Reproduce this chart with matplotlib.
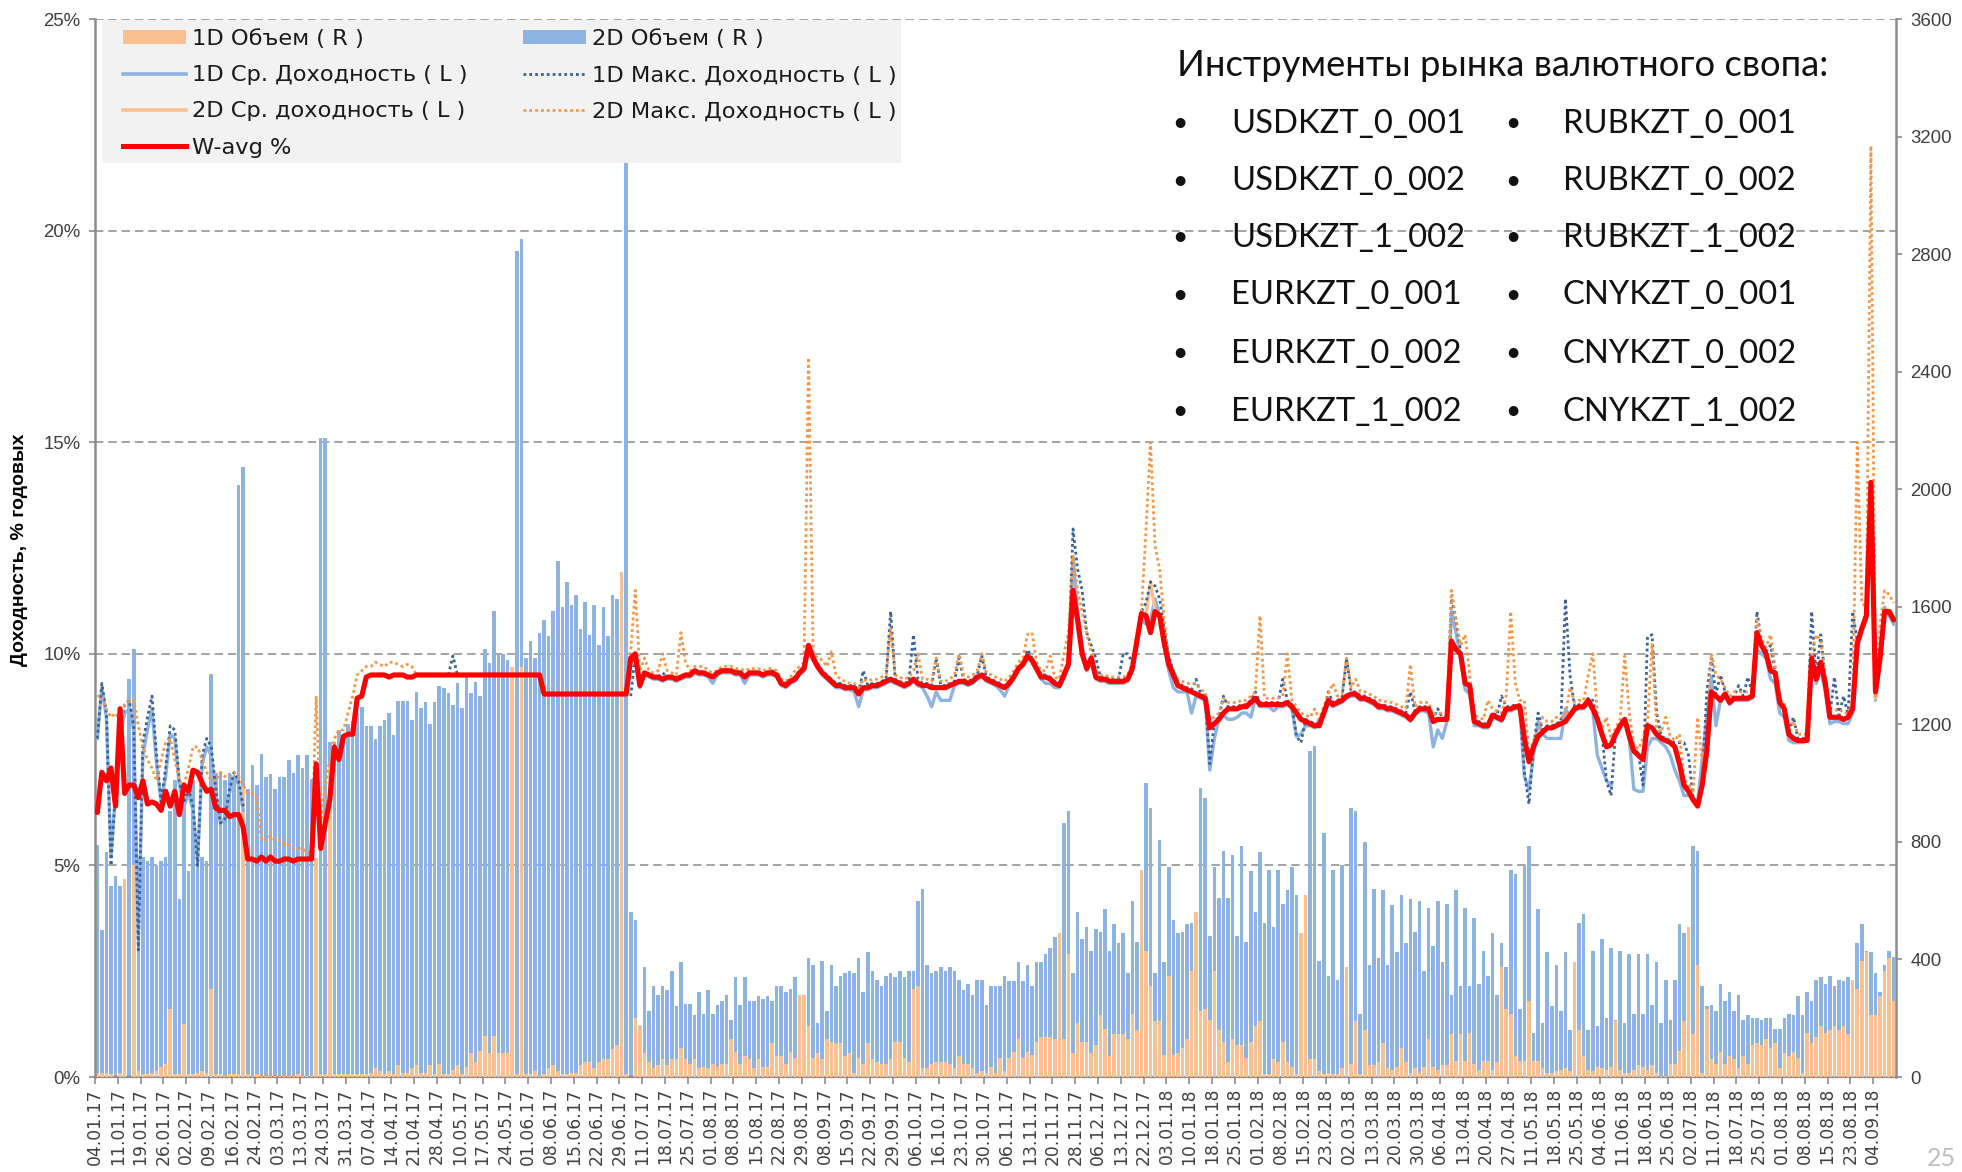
import numpy as np
import matplotlib
matplotlib.use("Agg")
import matplotlib.pyplot as plt
from matplotlib.lines import Line2D
from matplotlib.patches import Patch, Rectangle
from matplotlib.ticker import FixedLocator, FuncFormatter

plt.rcParams['font.family'] = ['Liberation Sans', 'DejaVu Sans']

# ---------------- data ----------------
tick_labels = [
    "04.01.17", "11.01.17", "19.01.17", "26.01.17", "02.02.17", "09.02.17", "16.02.17", "24.02.17",
    "03.03.17", "13.03.17", "24.03.17", "31.03.17", "07.04.17", "14.04.17", "21.04.17", "28.04.17",
    "10.05.17", "17.05.17", "24.05.17", "01.06.17", "08.06.17", "15.06.17", "22.06.17", "29.06.17",
    "11.07.17", "18.07.17", "25.07.17", "01.08.17", "08.08.17", "15.08.17", "22.08.17", "29.08.17",
    "08.09.17", "15.09.17", "22.09.17", "29.09.17", "06.10.17", "16.10.17", "23.10.17", "30.10.17",
    "06.11.17", "13.11.17", "20.11.17", "28.11.17", "06.12.17", "13.12.17", "22.12.17", "03.01.18",
    "10.01.18", "18.01.18", "25.01.18", "01.02.18", "08.02.18", "15.02.18", "23.02.18", "02.03.18",
    "13.03.18", "20.03.18", "30.03.18", "06.04.18", "13.04.18", "20.04.18", "27.04.18", "11.05.18",
    "18.05.18", "25.05.18", "04.06.18", "11.06.18", "18.06.18", "25.06.18", "02.07.18", "11.07.18",
    "18.07.18", "25.07.18", "01.08.18", "08.08.18", "15.08.18", "23.08.18", "04.09.18",
]

# 2D volume (right axis)
vol_2d = [
    790, 500, 765, 650, 685, 650, 0, 1355, 1455, 750,
    750, 735, 750, 720, 735, 750, 905, 1010, 605, 935,
    700, 1010, 735, 750, 735, 1370, 1035, 1035, 1010, 1035,
    1010, 2015, 2075, 980, 1060, 995, 1100, 1020, 1030, 980,
    1020, 1020, 1080, 1035, 1095, 1050, 1095, 1015, 0, 2175,
    2175, 1140, 1140, 1180, 1160, 1200, 1210, 1240, 1260, 1195,
    1195, 1150, 1195, 1215, 1240, 1165, 1280, 1280, 1280, 1215,
    1310, 1255, 1275, 1200, 1275, 1330, 1325, 1305, 1265, 1340,
    1255, 1360, 1305, 1345, 1295, 1455, 1410, 1585, 1440, 1440,
    1420, 0, 2810, 2850, 1425, 1485, 1425, 1510, 1555, 1500,
    1585, 1755, 1600, 1685, 1605, 1640, 1525, 1615, 1505, 1605,
    1470, 1600, 1500, 1640, 1625, 0, 3150, 560, 535, 175,
    375, 225, 310, 280, 310, 295, 360, 240, 390, 250,
    250, 210, 290, 215, 295, 215, 245, 260, 280, 195,
    340, 245, 340, 260, 260, 275, 265, 275, 260, 310,
    310, 290, 300, 340, 275, 280, 405, 380, 185, 395,
    225, 380, 310, 345, 355, 360, 355, 405, 290, 425,
    360, 330, 310, 345, 355, 340, 360, 340, 360, 360,
    600, 640, 380, 355, 360, 375, 360, 375, 360, 330,
    295, 315, 280, 330, 330, 245, 310, 310, 310, 345,
    325, 325, 390, 325, 380, 310, 390, 390, 420, 440,
    475, 480, 865, 905, 355, 560, 470, 510, 430, 505,
    495, 570, 430, 520, 455, 490, 355, 600, 460, 705,
    1000, 915, 355, 805, 390, 715, 535, 490, 495, 520,
    525, 560, 985, 950, 480, 715, 610, 770, 610, 755,
    480, 785, 460, 700, 560, 765, 525, 705, 510, 705,
    590, 635, 715, 620, 490, 620, 1110, 1125, 395, 830,
    345, 705, 330, 720, 375, 915, 905, 215, 800, 380,
    640, 405, 635, 380, 585, 425, 620, 455, 605, 495,
    600, 360, 575, 445, 600, 390, 590, 280, 635, 310,
    575, 310, 540, 315, 430, 345, 490, 280, 455, 375,
    705, 690, 230, 720, 785, 150, 570, 185, 425, 240,
    380, 225, 425, 160, 390, 525, 555, 160, 430, 175,
    470, 200, 440, 195, 430, 185, 420, 215, 420, 215,
    420, 245, 390, 185, 330, 195, 330, 520, 490, 510,
    785, 770, 310, 240, 245, 225, 315, 260, 290, 225,
    280, 195, 210, 200, 200, 195, 200, 200, 165, 165,
    200, 215, 210, 275, 210, 290, 260, 330, 340, 315,
    345, 310, 330, 325, 340, 330, 455, 520, 430, 425,
    355, 290, 380, 430, 410,
]

# 1D volume (right axis)
vol_1d = [
    15, 15, 15, 10, 0, 15, 675, 0, 720, 20,
    10, 10, 15, 20, 35, 45, 230, 10, 10, 180,
    10, 10, 15, 20, 15, 300, 10, 10, 5, 10,
    10, 10, 990, 10, 5, 10, 5, 5, 5, 5,
    5, 5, 5, 5, 10, 5, 5, 5, 745, 10,
    10, 1060, 10, 10, 10, 10, 10, 10, 10, 10,
    15, 30, 20, 10, 20, 10, 40, 15, 15, 30,
    40, 15, 15, 40, 10, 45, 10, 10, 25, 40,
    10, 35, 80, 50, 90, 140, 80, 140, 80, 80,
    80, 1395, 10, 1395, 10, 10, 20, 5, 10, 30,
    40, 20, 10, 10, 15, 15, 40, 50, 50, 30,
    50, 60, 60, 95, 110, 1720, 10, 0, 200, 170,
    80, 50, 30, 40, 60, 40, 60, 60, 100, 60,
    45, 60, 30, 35, 30, 45, 35, 45, 45, 130,
    85, 45, 70, 60, 30, 60, 35, 35, 115, 70,
    70, 45, 85, 65, 280, 280, 175, 65, 80, 60,
    130, 120, 115, 115, 70, 80, 15, 65, 45, 115,
    60, 50, 45, 45, 60, 120, 120, 65, 50, 300,
    310, 30, 30, 45, 50, 50, 50, 45, 30, 70,
    45, 45, 30, 15, 20, 15, 35, 15, 65, 20,
    65, 85, 130, 65, 85, 75, 120, 135, 135, 135,
    130, 490, 130, 420, 80, 185, 120, 120, 80, 110,
    210, 165, 70, 145, 145, 145, 130, 215, 160, 705,
    430, 310, 190, 190, 75, 345, 75, 80, 100, 130,
    360, 560, 225, 230, 195, 360, 160, 120, 50, 130,
    110, 110, 65, 120, 175, 190, 10, 10, 60, 50,
    120, 50, 35, 10, 490, 620, 60, 60, 20, 10,
    15, 10, 10, 30, 375, 45, 190, 10, 160, 40,
    40, 50, 115, 30, 25, 35, 100, 50, 15, 30,
    15, 35, 130, 35, 25, 40, 40, 145, 55, 145,
    55, 150, 45, 25, 55, 55, 25, 50, 375, 230,
    215, 70, 55, 55, 260, 55, 55, 30, 15, 15,
    20, 25, 30, 20, 390, 160, 70, 25, 20, 35,
    30, 25, 35, 190, 25, 15, 15, 25, 40, 35,
    25, 40, 15, 5, 5, 45, 45, 90, 190, 510,
    145, 380, 15, 230, 60, 45, 85, 45, 70, 60,
    30, 70, 45, 110, 115, 110, 130, 100, 115, 30,
    80, 70, 85, 65, 15, 150, 115, 135, 175, 150,
    160, 175, 160, 175, 145, 330, 300, 395, 425, 210,
    210, 275, 360, 405, 260,
]

# 1D average yield, % (left axis)
avg_1d = [
    8.0, 9.2, 8.5, 5.2, 6.7, 8.0, 8.6, 8.7, 8.2, 3.2,
    7.6, 8.2, 8.7, 7.4, 6.5, 7.1, 8.1, 8.0, 6.9, 6.4,
    6.7, 6.3, 5.1, 7.4, 7.8, 7.6, 6.7, 6.0, 6.1, 6.7,
    7.1, 6.9, 6.3, None, None, None, None, None, None, None,
    None, None, None, None, None, None, None, None, None, None,
    None, None, None, None, None, None, None, None, None, None,
    None, None, None, None, None, None, None, None, None, None,
    None, None, None, None, None, None, None, None, None, None,
    None, None, None, None, None, None, None, None, None, None,
    None, None, None, None, None, None, None, None, None, None,
    None, None, None, None, None, None, None, None, None, None,
    None, None, None, None, None, None, None, 9.8, 9.9, 9.2,
    9.5, 9.45, 9.4, 9.4, 9.35, 9.4, 9.4, 9.35, 9.4, 9.45,
    9.45, 9.55, 9.5, 9.5, 9.45, 9.3, 9.5, 9.55, 9.55, 9.55,
    9.5, 9.5, 9.3, 9.5, 9.5, 9.5, 9.45, 9.5, 9.5, 9.45,
    9.25, 9.2, 9.3, 9.35, 9.5, 9.6, 10.1, 9.85, 9.65, 9.5,
    9.4, 9.3, 9.2, 9.2, 9.15, 9.15, 9.1, 8.75, 9.15, 9.15,
    9.2, 9.2, 9.25, 9.3, 9.35, 9.3, 9.25, 9.2, 9.25, 9.35,
    9.25, 9.2, 9.0, 8.75, 9.1, 8.9, 8.9, 8.9, 9.25, 9.3,
    9.3, 9.25, 9.3, 9.4, 9.45, 9.35, 9.3, 9.25, 9.15, 9.0,
    9.25, 9.4, 9.6, 9.7, 9.9, 9.8, 9.6, 9.4, 9.3, 9.3,
    9.2, 9.2, 9.4, 9.7, 12.3, 11.0, 10.2, 9.6, 9.8, 9.4,
    9.35, 9.35, 9.3, 9.3, 9.3, 9.3, 9.35, 9.6, 10.2, 10.8,
    10.7, 10.8, 11.3, 10.9, 10.2, 9.6, 9.2, 9.1, 9.1, 9.1,
    8.6, 9.0, 8.95, 8.9, 7.25, 8.0, 8.45, 8.55, 8.45, 8.45,
    8.5, 8.6, 8.6, 8.5, 8.95, 8.75, 8.75, 8.75, 8.65, 8.75,
    8.75, 8.8, 8.7, 8.05, 8.1, 8.3, 8.3, 8.25, 8.45, 8.55,
    8.85, 8.75, 8.8, 8.85, 8.95, 9.0, 9.0, 8.9, 8.9, 8.85,
    8.8, 8.7, 8.7, 8.65, 8.65, 8.6, 8.55, 8.5, 8.4, 8.55,
    8.65, 8.65, 8.6, 7.8, 8.2, 8.0, 8.4, 11.0, 10.5, 9.9,
    9.15, 9.05, 8.3, 8.3, 8.25, 8.25, 8.5, 8.45, 8.4, 8.65,
    8.65, 8.7, 8.7, 7.1, 6.8, 7.6, 8.4, 8.1, 8.0, 8.0,
    8.0, 8.0, 8.7, 8.5, 8.65, 8.7, 8.7, 8.85, 8.65, 7.6,
    7.3, 7.0, 6.9, None, None, None, 8.0, 6.8, 6.75, 6.75,
    7.8, 8.0, 8.0, 7.9, 7.8, 7.6, 7.25, 7.0, 6.65, 6.65,
    6.6, 6.5, 7.5, 8.5, 9.45, 8.3, 8.9, 9.0, 8.8, 8.9,
    8.9, 8.9, 8.9, 8.95, 10.1, 10.0, 9.9, 9.4, 9.3, 8.6,
    8.5, 7.95, 7.9, 7.9, 7.9, 7.95, 9.9, 9.3, 9.6, 9.1,
    8.35, 8.4, 8.4, 8.35, 8.35, 8.6, 10.1, 10.5, 10.8, 13.9,
    8.9, 9.8, 11.1, 10.9, 10.7,
]

# 1D max yield, % (left axis)
max_1d = [
    8.0, 9.3, 8.6, 5.0, 6.8, 8.3, 8.8, 8.9, 8.3, 3.0,
    7.9, 8.5, 9.0, 7.6, 6.5, 7.3, 8.3, 8.2, 7.0, 6.5,
    6.8, 6.4, 5.0, 7.6, 8.0, 7.8, 6.8, 6.0, 6.1, 6.8,
    7.2, 7.0, 6.4, None, None, None, None, None, None, None,
    None, None, None, None, None, None, None, None, None, None,
    None, None, None, None, None, None, None, None, None, None,
    None, None, None, None, None, None, None, None, None, None,
    None, None, None, None, None, None, None, 9.5, 9.95, 9.5,
    None, None, None, None, None, None, None, None, None, None,
    None, None, None, None, None, None, None, None, None, None,
    None, None, None, None, None, None, None, None, None, None,
    None, None, None, None, None, None, None, 9.0, 10.0, 9.3,
    9.55, 9.5, 9.45, 9.45, 9.55, 9.45, 9.45, 9.4, 9.45, 9.5,
    9.5, 9.6, 9.55, 9.55, 9.5, 9.45, 9.55, 9.6, 9.6, 9.6,
    9.55, 9.55, 9.45, 9.55, 9.55, 9.55, 9.5, 9.55, 9.6, 9.55,
    9.35, 9.3, 9.4, 9.45, 9.6, 9.7, 10.2, 9.95, 9.75, 9.6,
    9.5, 9.4, 9.3, 9.3, 9.25, 9.25, 9.25, 9.1, 9.6, 9.25,
    9.3, 9.3, 9.35, 9.4, 11.0, 9.4, 9.35, 9.3, 9.35, 10.45,
    9.4, 9.3, 9.3, 9.25, 9.9, 9.25, 9.25, 9.3, 9.35, 9.9,
    9.4, 9.35, 9.4, 9.5, 9.95, 9.45, 9.4, 9.35, 9.3, 9.25,
    9.35, 9.5, 9.7, 9.8, 10.1, 9.9, 9.7, 9.5, 9.5, 9.45,
    9.35, 9.3, 9.55, 9.8, 12.95, 12.0, 11.5, 10.5, 10.2, 9.9,
    9.45, 9.45, 9.4, 9.4, 9.4, 10.0, 10.0, 9.8, 10.4, 11.0,
    11.2, 11.7, 11.6, 11.3, 10.6, 9.95, 9.6, 9.3, 9.25, 9.2,
    9.15, 9.4, 9.05, 9.0, 7.4, 8.4, 8.5, 9.0, 8.75, 8.75,
    8.75, 8.8, 8.8, 8.9, 9.1, 8.85, 8.85, 8.85, 8.85, 8.85,
    9.4, 8.9, 8.8, 8.05, 7.9, 8.45, 8.4, 8.35, 8.35, 8.65,
    9.1, 8.85, 8.9, 8.95, 9.9, 9.1, 9.1, 9.0, 9.0, 8.95,
    8.9, 8.8, 8.8, 8.75, 8.75, 8.7, 8.65, 8.6, 9.1, 8.65,
    8.75, 8.75, 8.75, 8.45, 8.7, 8.5, 8.5, 11.3, 10.8, 10.05,
    9.35, 9.3, 8.45, 8.4, 8.35, 8.35, 8.6, 8.55, 9.0, 8.75,
    8.75, 8.8, 8.8, 7.2, 6.45, 7.8, 8.6, 8.2, 8.3, 8.3,
    8.35, 8.4, 11.3, 9.5, 8.75, 8.8, 8.8, 8.95, 8.9, 8.5,
    8.15, 7.0, 6.65, 8.15, 8.35, 8.5, 8.1, 7.75, 7.65, 6.9,
    10.4, 10.45, 8.6, 8.05, 8.0, 7.95, 7.9, 7.9, 7.9, 7.6,
    6.6, 6.45, 7.0, 9.1, 9.9, 9.05, 9.5, 9.1, 8.9, 9.0,
    9.25, 9.0, 9.45, 9.05, 11.0, 10.3, 10.05, 10.2, 9.6, 8.8,
    8.75, 8.15, 8.5, 8.0, 8.0, 8.0, 11.0, 9.45, 10.45, 9.35,
    8.55, 9.45, 8.55, 9.0, 8.55, 11.0, 10.3, 10.65, 10.95, 14.1,
    9.15, 9.9, 11.05, 11.0, 10.85,
]

# 2D average yield, % (left axis)
avg_2d = [
    6.25, 7.2, 7.0, 7.3, 6.4, 8.7, 6.7, 6.9, 6.9, 6.6,
    7.0, 6.45, 6.5, 6.45, 6.3, 6.75, 6.4, 6.75, 6.2, 6.9,
    6.75, 7.25, 7.2, 6.95, 6.75, 6.8, 6.35, 6.3, 6.3, 6.15,
    6.2, 6.2, 5.9, 5.15, 5.15, 5.1, 5.2, 5.1, 5.2, 5.1,
    5.1, 5.15, 5.15, 5.1, 5.15, 5.15, 5.15, 5.15, 7.4, 5.4,
    6.0, 6.55, 7.8, 7.5, 8.05, 8.1, 8.1, 8.95, 9.0, 9.45,
    9.5, 9.5, 9.5, 9.5, 9.45, 9.5, 9.5, 9.5, 9.45, 9.45,
    9.5, 9.5, 9.5, 9.5, 9.5, 9.5, 9.5, 9.5, 9.5, 9.5,
    9.5, 9.5, 9.5, 9.5, 9.5, 9.5, 9.5, 9.5, 9.5, 9.5,
    9.5, 9.5, 9.5, 9.5, 9.5, 9.5, 9.5, 9.5, 9.05, 9.05,
    9.05, 9.05, 9.05, 9.05, 9.05, 9.05, 9.05, 9.05, 9.05, 9.05,
    9.05, 9.05, 9.05, 9.05, 9.05, 9.05, 9.05, 9.9, 10.0, 9.25,
    9.55, 9.5, 9.45, 9.45, 9.4, 9.45, 9.45, 9.4, 9.45, 9.5,
    9.5, 9.6, 9.55, 9.55, 9.5, 9.45, 9.55, 9.6, 9.6, 9.6,
    9.55, 9.55, 9.45, 9.55, 9.55, 9.55, 9.5, 9.55, 9.55, 9.5,
    9.3, 9.25, 9.35, 9.4, 9.55, 9.65, 10.2, 9.9, 9.7, 9.55,
    9.45, 9.35, 9.25, 9.25, 9.2, 9.2, 9.2, 9.05, 9.2, 9.2,
    9.25, 9.25, 9.3, 9.35, 9.4, 9.35, 9.3, 9.25, 9.3, 9.4,
    9.3, 9.25, 9.25, 9.2, 9.2, 9.2, 9.2, 9.25, 9.3, 9.35,
    9.35, 9.3, 9.35, 9.45, 9.5, 9.4, 9.35, 9.3, 9.25, 9.2,
    9.3, 9.45, 9.65, 9.75, 9.95, 9.85, 9.65, 9.45, 9.45, 9.4,
    9.3, 9.25, 9.5, 9.75, 11.5, 10.8, 10.0, 9.65, 9.9, 9.45,
    9.4, 9.4, 9.35, 9.35, 9.35, 9.35, 9.4, 9.65, 10.3, 10.95,
    10.9, 11.7, 11.0, 10.9, 10.25, 9.75, 9.5, 9.25, 9.2, 9.15,
    9.1, 9.05, 9.0, 8.95, 8.25, 8.35, 8.45, 8.6, 8.7, 8.7,
    8.7, 8.75, 8.75, 8.85, 8.95, 8.8, 8.8, 8.8, 8.8, 8.8,
    8.8, 8.85, 8.75, 8.6, 8.45, 8.4, 8.35, 8.3, 8.3, 8.6,
    8.9, 8.8, 8.85, 8.9, 9.0, 9.05, 9.05, 8.95, 8.95, 8.9,
    8.85, 8.75, 8.75, 8.7, 8.7, 8.65, 8.6, 8.55, 8.45, 8.6,
    8.7, 8.7, 8.7, 8.4, 8.45, 8.45, 8.45, 10.3, 10.1, 10.0,
    9.3, 9.25, 8.4, 8.35, 8.3, 8.3, 8.55, 8.5, 8.45, 8.7,
    8.7, 8.75, 8.75, 8.0, 7.45, 7.8, 8.05, 8.15, 8.25, 8.25,
    8.3, 8.35, 8.4, 8.55, 8.7, 8.75, 8.75, 8.9, 8.7, 8.45,
    8.1, 7.8, 7.85, 8.1, 8.3, 8.45, 8.05, 7.7, 7.6, 7.5,
    8.3, 8.25, 8.1, 8.0, 7.95, 7.9, 7.8, 7.4, 6.9, 6.75,
    6.55, 6.4, 6.9, 7.7, 9.1, 9.0, 8.9, 9.05, 8.85, 8.95,
    8.95, 8.95, 8.95, 9.0, 10.5, 10.2, 10.0, 9.6, 9.55, 8.85,
    8.7, 8.1, 8.0, 7.95, 7.95, 7.95, 9.9, 9.4, 9.8, 9.3,
    8.5, 8.5, 8.5, 8.45, 8.5, 8.7, 10.25, 10.6, 10.9, 13.5,
    8.95, 9.9, 11.0, 11.0, 10.8,
]

# 2D max yield, % (left axis)
max_2d = [
    9.0, 9.0, 8.7, 8.5, 8.6, 8.4, 8.8, 8.9, 8.9, 8.3,
    7.8, 7.5, 7.3, 7.0, 7.5, 7.9, 8.0, 7.5, 7.0, 6.9,
    7.3, 7.8, 7.8, 7.5, 7.2, 7.0, 7.0, 7.2, 7.1, 7.1,
    7.2, 7.1, 6.9, 6.7, 6.7, 6.6, 5.6, 5.6, 5.7, 5.6,
    5.6, 5.5, 5.5, 5.4, 5.4, 5.4, 5.3, 5.3, 9.0, 6.0,
    6.9, 7.5, 8.0, 8.2, 8.2, 8.6, 9.0, 9.5, 9.6, 9.7,
    9.7, 9.8, 9.75, 9.7, 9.8, 9.8, 9.75, 9.7, 9.75, 9.7,
    9.5, 9.5, 9.5, 9.5, 9.5, 9.5, 9.5, 9.5, 9.5, 9.5,
    9.5, 9.5, 9.5, 9.5, 9.5, 9.5, 9.5, 9.5, 9.5, 9.5,
    9.5, 9.5, 9.5, 9.5, 9.5, 9.5, 9.5, 9.5, 9.05, 9.05,
    9.05, 9.05, 9.05, 9.05, 9.05, 9.05, 9.05, 9.05, 9.05, 9.05,
    9.05, 9.05, 9.05, 9.05, 9.05, 9.05, 9.05, 10.1, 11.5, 9.6,
    9.9, 9.6, 9.55, 9.6, 10.0, 9.6, 9.55, 9.5, 10.5, 9.8,
    9.6, 9.7, 9.7, 9.7, 9.6, 9.55, 9.6, 9.7, 9.7, 9.7,
    9.65, 9.65, 9.6, 9.65, 9.65, 9.65, 9.6, 9.65, 9.65, 9.6,
    9.4, 9.35, 9.45, 9.6, 9.7, 9.8, 17.0, 10.0, 9.9, 9.85,
    9.7, 10.05, 9.5, 9.4, 9.35, 9.3, 9.3, 9.2, 9.4, 9.35,
    9.4, 9.4, 9.45, 9.5, 10.6, 9.5, 9.45, 9.4, 9.45, 9.6,
    10.0, 9.4, 9.4, 9.35, 9.9, 9.35, 9.35, 9.4, 9.5, 10.0,
    9.5, 9.45, 9.5, 9.6, 10.0, 9.55, 9.5, 9.45, 9.4, 9.35,
    9.45, 9.6, 9.8, 9.9, 10.45, 10.5, 9.8, 9.6, 9.6, 9.95,
    9.45, 9.4, 10.0, 10.5, 12.3, 11.5, 11.0, 10.5, 10.0, 9.6,
    9.5, 9.5, 9.45, 9.45, 9.45, 9.45, 9.5, 9.8, 10.3, 11.0,
    12.9, 15.0, 12.55, 12.0, 10.8, 9.9, 9.6, 9.4, 9.35, 9.3,
    9.3, 9.3, 9.15, 9.1, 8.45, 8.5, 8.6, 8.95, 8.85, 8.85,
    8.85, 8.9, 8.9, 9.0, 9.1, 10.9, 8.95, 8.95, 8.95, 8.95,
    9.0, 10.0, 8.9, 8.75, 8.6, 8.55, 8.5, 8.7, 8.45, 8.75,
    9.05, 9.3, 9.0, 9.05, 9.9, 9.2, 9.4, 9.1, 9.1, 9.05,
    9.0, 8.9, 8.9, 8.85, 8.85, 8.8, 8.75, 8.7, 9.75, 8.75,
    8.85, 8.85, 8.85, 8.55, 8.6, 8.6, 8.6, 11.5, 10.8, 10.2,
    10.45, 9.5, 8.55, 8.5, 8.45, 8.9, 8.7, 8.65, 8.6, 9.0,
    11.0, 9.3, 8.9, 8.9, 7.6, 7.95, 8.2, 8.5, 8.4, 8.4,
    8.5, 8.5, 8.55, 9.2, 8.85, 8.9, 8.9, 9.5, 10.0, 8.6,
    8.25, 8.5, 8.0, 8.25, 8.45, 9.95, 8.6, 7.85, 7.75, 8.0,
    8.4, 10.25, 8.25, 8.15, 8.5, 8.05, 7.95, 8.1, 7.05, 6.9,
    6.7, 8.5, 7.45, 7.85, 10.0, 9.5, 9.4, 9.2, 9.0, 9.1,
    9.1, 9.1, 9.1, 9.15, 10.8, 10.35, 10.15, 10.45, 9.7, 8.9,
    8.85, 8.25, 8.4, 8.1, 8.1, 8.1, 10.05, 10.45, 10.3, 9.45,
    8.65, 8.65, 8.7, 8.6, 8.6, 8.85, 15.0, 11.2, 11.1, 22.0,
    9.0, 10.7, 11.5, 11.4, 11.2,
]

# Weighted average yield, % (left axis)
wavg = [
    6.25, 7.2, 7.0, 7.3, 6.4, 8.7, 6.7, 6.9, 6.9, 6.6,
    7.0, 6.45, 6.5, 6.45, 6.3, 6.75, 6.4, 6.75, 6.2, 6.9,
    6.75, 7.25, 7.2, 6.95, 6.75, 6.8, 6.35, 6.3, 6.3, 6.15,
    6.2, 6.2, 5.9, 5.15, 5.15, 5.1, 5.2, 5.1, 5.2, 5.1,
    5.1, 5.15, 5.15, 5.1, 5.15, 5.15, 5.15, 5.15, 7.4, 5.4,
    6.0, 6.55, 7.8, 7.5, 8.05, 8.1, 8.1, 8.95, 9.0, 9.45,
    9.5, 9.5, 9.5, 9.5, 9.45, 9.5, 9.5, 9.5, 9.45, 9.45,
    9.5, 9.5, 9.5, 9.5, 9.5, 9.5, 9.5, 9.5, 9.5, 9.5,
    9.5, 9.5, 9.5, 9.5, 9.5, 9.5, 9.5, 9.5, 9.5, 9.5,
    9.5, 9.5, 9.5, 9.5, 9.5, 9.5, 9.5, 9.5, 9.05, 9.05,
    9.05, 9.05, 9.05, 9.05, 9.05, 9.05, 9.05, 9.05, 9.05, 9.05,
    9.05, 9.05, 9.05, 9.05, 9.05, 9.05, 9.05, 9.9, 10.0, 9.25,
    9.55, 9.5, 9.45, 9.45, 9.4, 9.45, 9.45, 9.4, 9.45, 9.5,
    9.5, 9.6, 9.55, 9.55, 9.5, 9.45, 9.55, 9.6, 9.6, 9.6,
    9.55, 9.55, 9.45, 9.55, 9.55, 9.55, 9.5, 9.55, 9.55, 9.5,
    9.3, 9.25, 9.35, 9.4, 9.55, 9.65, 10.2, 9.9, 9.7, 9.55,
    9.45, 9.35, 9.25, 9.25, 9.2, 9.2, 9.2, 9.05, 9.2, 9.2,
    9.25, 9.25, 9.3, 9.35, 9.4, 9.35, 9.3, 9.25, 9.3, 9.4,
    9.3, 9.25, 9.25, 9.2, 9.2, 9.2, 9.2, 9.25, 9.3, 9.35,
    9.35, 9.3, 9.35, 9.45, 9.5, 9.4, 9.35, 9.3, 9.25, 9.2,
    9.3, 9.45, 9.65, 9.75, 9.95, 9.85, 9.65, 9.45, 9.45, 9.4,
    9.3, 9.25, 9.5, 9.75, 11.5, 10.8, 10.0, 9.65, 9.9, 9.45,
    9.4, 9.4, 9.35, 9.35, 9.35, 9.35, 9.4, 9.65, 10.3, 10.95,
    10.9, 10.5, 11.0, 10.9, 10.25, 9.75, 9.5, 9.25, 9.2, 9.15,
    9.1, 9.05, 9.0, 8.95, 8.25, 8.35, 8.45, 8.6, 8.7, 8.7,
    8.7, 8.75, 8.75, 8.85, 8.95, 8.8, 8.8, 8.8, 8.8, 8.8,
    8.8, 8.85, 8.75, 8.6, 8.45, 8.4, 8.35, 8.3, 8.3, 8.6,
    8.9, 8.8, 8.85, 8.9, 9.0, 9.05, 9.05, 8.95, 8.95, 8.9,
    8.85, 8.75, 8.75, 8.7, 8.7, 8.65, 8.6, 8.55, 8.45, 8.6,
    8.7, 8.7, 8.7, 8.4, 8.45, 8.45, 8.45, 10.3, 10.1, 10.0,
    9.3, 9.25, 8.4, 8.35, 8.3, 8.3, 8.55, 8.5, 8.45, 8.7,
    8.7, 8.75, 8.75, 8.0, 7.45, 7.8, 8.05, 8.15, 8.25, 8.25,
    8.3, 8.35, 8.4, 8.55, 8.7, 8.75, 8.75, 8.9, 8.7, 8.45,
    8.1, 7.8, 7.85, 8.1, 8.3, 8.45, 8.05, 7.7, 7.6, 7.5,
    8.3, 8.25, 8.1, 8.0, 7.95, 7.9, 7.8, 7.4, 6.9, 6.75,
    6.55, 6.4, 6.9, 7.7, 9.1, 9.0, 8.9, 9.05, 8.85, 8.95,
    8.95, 8.95, 8.95, 9.0, 10.5, 10.2, 10.0, 9.6, 9.55, 8.85,
    8.7, 8.1, 8.0, 7.95, 7.95, 7.95, 9.9, 9.4, 9.8, 9.3,
    8.5, 8.5, 8.5, 8.45, 8.5, 8.7, 10.25, 10.6, 10.9, 14.05,
    9.1, 9.9, 11.0, 11.0, 10.8,
]

legend_labels = ["1D Объем ( R )", "1D Ср. Доходность ( L )", "2D Ср. доходность ( L )", "W-avg %",
                 "2D Объем ( R )", "1D Макс. Доходность ( L )", "2D Макс. Доходность ( L )"]
box_title = "Инструменты рынка валютного свопа:"
instruments_left = ["USDKZT_0_001", "USDKZT_0_002", "USDKZT_1_002",
                    "EURKZT_0_001", "EURKZT_0_002", "EURKZT_1_002"]
instruments_right = ["RUBKZT_0_001", "RUBKZT_0_002", "RUBKZT_1_002",
                     "CNYKZT_0_001", "CNYKZT_0_002", "CNYKZT_1_002"]

# ---------------- styles ----------------
BLUE = "#8DB3E2"
ORANGE = "#FAC08F"
DBLUE = "#3B629A"
DORANGE = "#F79646"
RED = "#FF0000"
AXIS = "#8C8C8C"
TXT = "#404040"
DOT = (0, (1.0, 1.1))

W, H = 1962, 1172
fig = plt.figure(figsize=(W / 100, H / 100), dpi=100)
fig.patch.set_facecolor("white")


def fx(px):
    return px / W


def fy(py):
    return 1 - py / H


L_, R_, T_, B_ = 95, 1896, 19, 1077
axV = fig.add_axes([fx(L_), fy(B_), (R_ - L_) / W, (B_ - T_) / H])
axY = axV.twinx()
axV.yaxis.tick_right()


def arr(v):
    return np.array(v, dtype=float)


def xs(v):
    return np.arange(len(v)) + 0.5


n = len(wavg)

# bars (right axis)
axV.bar(xs(vol_2d), vol_2d, width=0.78, color=BLUE, linewidth=0, zorder=2)
axV.bar(xs(vol_1d), vol_1d, width=0.78, color=ORANGE, linewidth=0, zorder=3)
axV.set_ylim(0, 3600)
axV.set_xlim(0, n)
axV.set_yticks(np.arange(0, 3601, 400))

# gridlines at the left-axis 5% steps (behind bars)
axV.yaxis.remove_overlapping_locs = False
axV.yaxis.set_minor_locator(FixedLocator([720, 1440, 2160, 2880, 3600]))
axV.grid(which="minor", axis="y", color=AXIS, linewidth=1.1, linestyle=(0, (5.5, 3.2)))
axV.grid(which="major", visible=False)
axV.set_axisbelow(True)
axV.tick_params(axis="y", which="minor", length=0)

# lines (left axis)
axY.plot(xs(avg_1d), arr(avg_1d) / 100, color=BLUE, lw=2.4, zorder=3)
axY.plot(xs(avg_2d), arr(avg_2d) / 100, color=ORANGE, lw=2.4, zorder=3)
axY.plot(xs(max_1d), arr(max_1d) / 100, color=DBLUE, lw=2.0, ls=DOT, zorder=4)
axY.plot(xs(max_2d), arr(max_2d) / 100, color=DORANGE, lw=2.0, ls=DOT, zorder=4)
axY.plot(xs(wavg), arr(wavg) / 100, color=RED, lw=3.7, zorder=5,
         solid_joinstyle="round", solid_capstyle="round")
axY.set_ylim(0, 0.25)
axY.set_xlim(0, n)
axY.yaxis.tick_left()
axY.set_yticks(np.arange(0, 0.2501, 0.05))
axY.yaxis.set_major_formatter(FuncFormatter(lambda v, p: f"{int(round(v * 100))}%"))

# ticks
for a in (axV, axY):
    a.tick_params(axis="y", which="major", labelsize=13.4, colors=AXIS,
                  length=4.5, width=1.2, direction="out", pad=6, labelcolor=TXT)

axV.set_xticks(np.arange(len(tick_labels)) * 5)
axV.set_xticklabels(tick_labels, rotation=90, fontsize=12.3, color=TXT, family="DejaVu Sans")
axV.tick_params(axis="x", length=5, width=1.2, colors=AXIS, pad=3, labelcolor=TXT)

# spines
for a in (axV, axY):
    a.spines["top"].set_visible(False)
axV.spines["left"].set_visible(False)
axY.spines["right"].set_visible(False)
axY.spines["bottom"].set_visible(False)
axV.spines["right"].set_color(AXIS)
axV.spines["right"].set_linewidth(1.8)
axV.spines["bottom"].set_color(AXIS)
axV.spines["bottom"].set_linewidth(1.6)
axY.spines["left"].set_color(AXIS)
axY.spines["left"].set_linewidth(1.8)

# y-axis title
fig.text(fx(20), fy(550), "Доходность, % годовых", rotation=90, fontsize=14,
         fontweight="bold", ha="center", va="center", color="#000000")

# legend
fig.add_artist(Rectangle((fx(102), fy(163)), (901 - 102) / W, (163 - 20) / H,
                         transform=fig.transFigure, facecolor="#F2F2F2",
                         edgecolor="none", zorder=5))
handles = [
    Patch(facecolor=ORANGE, edgecolor="none"),
    Line2D([], [], color=BLUE, lw=2.6),
    Line2D([], [], color=ORANGE, lw=2.6),
    Line2D([], [], color=RED, lw=3.6),
    Patch(facecolor=BLUE, edgecolor="none"),
    Line2D([], [], color=DBLUE, lw=2.0, ls=DOT),
    Line2D([], [], color=DORANGE, lw=2.0, ls=DOT),
]
leg = fig.legend(handles, legend_labels, loc="upper left",
                 bbox_to_anchor=(fx(123), fy(29)), bbox_transform=fig.transFigure,
                 ncol=2, frameon=False, borderpad=0, borderaxespad=0,
                 handlelength=2.8, handletextpad=0.27, labelspacing=0.72,
                 columnspacing=2.45, handleheight=0.55,
                 prop={"family": "DejaVu Sans", "size": 16.2})
leg.set_zorder(6)
for t in leg.get_texts():
    t.set_color("#1A1A1A")

# instruments text box
BOXFONT = ["Lato", "DejaVu Sans"]
fig.text(fx(1177), fy(65), box_title, fontsize=26.2, family=BOXFONT, fontweight="normal",
         ha="left", va="center", color="#111111")
rows_y = [123.5, 181.5, 237.5, 295.5, 353.5, 411.5]
for yy, a, b in zip(rows_y, instruments_left, instruments_right):
    fig.text(fx(1180), fy(yy), "•", fontsize=19, family=BOXFONT, ha="center", va="center", color="#111111")
    fig.text(fx(1231), fy(yy), a, fontsize=23.6, family=BOXFONT, fontweight="normal",
             ha="left", va="center", color="#111111")
    fig.text(fx(1513), fy(yy), "•", fontsize=19, family=BOXFONT, ha="center", va="center", color="#111111")
    fig.text(fx(1563), fy(yy), b, fontsize=23.6, family=BOXFONT, fontweight="normal",
             ha="left", va="center", color="#111111")

# slide number
fig.text(fx(1927), fy(1170), "25", fontsize=18, family=BOXFONT, fontweight="normal",
         color="#BFBFBF", ha="left", va="bottom")

fig.savefig("out.png", dpi=100)
